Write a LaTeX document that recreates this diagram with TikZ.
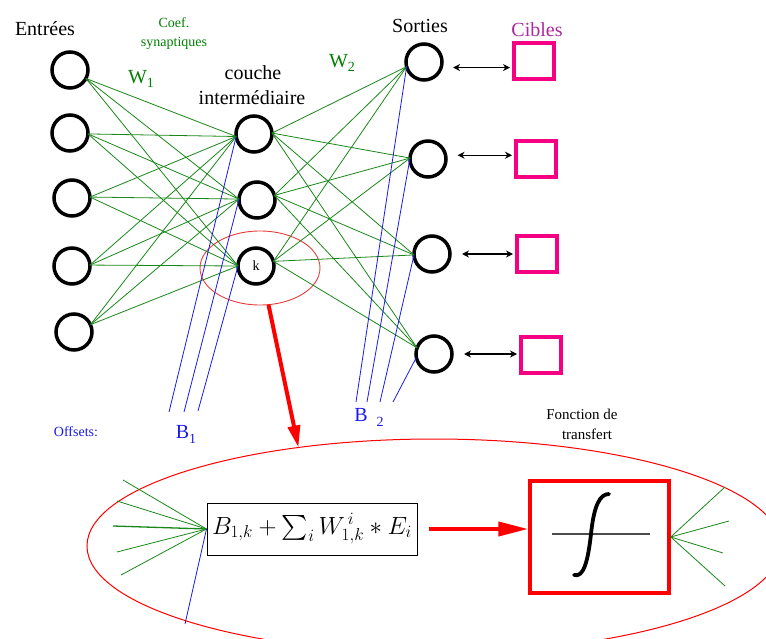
\documentclass[tikz,border=0pt]{standalone}
\usepackage{exscale}
\usepackage{fontspec}
\setmainfont{Liberation Serif}
\usetikzlibrary{arrows.meta,shapes.geometric}
\definecolor{gline}{RGB}{25,135,25}
\definecolor{gtext}{RGB}{0,128,0}
\definecolor{bline}{RGB}{25,25,235}
\definecolor{pinkc}{RGB}{245,0,130}
\definecolor{cibc}{RGB}{170,40,160}
\definecolor{redc}{RGB}{255,0,0}
\definecolor{ellc}{RGB}{232,60,60}
\begin{document}
\begin{tikzpicture}[x=1pt,y=-1pt,
  neuron/.style={circle,draw,line width=3.5pt,minimum size=36pt,inner sep=0pt,outer sep=0pt},
  target/.style={rectangle,draw=pinkc,line width=3.5pt,minimum width=40pt,minimum height=36pt,inner sep=0pt,outer sep=0pt},
  syn/.style={gline,line width=0.8pt},
  bias/.style={bline,line width=0.8pt},
  dbl/.style={{Stealth[length=7pt,width=7pt]}-{Stealth[length=7pt,width=7pt]},line width=1.2pt,shorten <=12pt,shorten >=4pt},
  big/.style={font=\fontsize{20}{22}\selectfont,inner sep=0pt},
  small/.style={font=\fontsize{14}{16}\selectfont,inner sep=0pt}]
\useasboundingbox (0,0) rectangle (766,639);
\clip (0,0) rectangle (766,639);

% ellipses
\node[ellipse,draw=redc,line width=1pt,minimum width=694pt,minimum height=214pt,inner sep=0pt,outer sep=0pt] (bigell) at (434,546) {};
\node[ellipse,draw=ellc,line width=0.9pt,minimum width=120pt,minimum height=74pt,inner sep=0pt,outer sep=0pt] (kell) at (260,268) {};

% neurons
\node[neuron] (i1) at (70,70) {};
\node[neuron] (i2) at (70,133) {};
\node[neuron] (i3) at (72,198) {};
\node[neuron] (i4) at (72,266) {};
\node[neuron] (i5) at (74,332) {};
\node[neuron] (h1) at (254,134) {};
\node[neuron] (h2) at (257,200) {};
\node[neuron] (h3) at (256,266) {\fontsize{14}{14}\selectfont k};
\node[neuron] (o1) at (424,62) {};
\node[neuron] (o2) at (428,159) {};
\node[neuron] (o3) at (432,254) {};
\node[neuron] (o4) at (434,354) {};

% targets
\node[target] (t1) at (534,61) {};
\node[target] (t2) at (536,159) {};
\node[target] (t3) at (537,254) {};
\node[target] (t4) at (541,355) {};

% synapses
\foreach \s in {i1.-28,i2.-3,i3.3,i4.3,i5.24}
  \foreach \t in {h1.188,h2.177,h3.180}
    \draw[syn] (\s) -- (\t);
\foreach \s in {h1.3,h2.15,h3.15}
  \foreach \t in {o1.195,o2.177,o3.183,o4.160}
    \draw[syn] (\s) -- (\t);

% biases
\coordinate (b1a) at (169,412);
\coordinate (b1b) at (184,412);
\coordinate (b1c) at (198,411);
\coordinate (b2a) at (356,402);
\coordinate (b2b) at (367,402);
\coordinate (b2c) at (380,402);
\coordinate (b2d) at (393,402);
\draw[bias] (b1a) -- (h1.188);
\draw[bias] (b1b) -- (h2.177);
\draw[bias] (b1c) -- (h3.180);
\draw[bias] (b2a) -- (o1.195);
\draw[bias] (b2b) -- (o2.177);
\draw[bias] (b2c) -- (o3.183);
\draw[bias] (b2d) -- (o4.191);

% output/target arrows
\draw[dbl] (o1.-18) -- (o1.-18 -| t1.west);
\draw[dbl] (o2.12) -- (o2.12 -| t2.west);
\draw[dbl] (o3.east) -- (o3.east -| t3.west);
\draw[dbl] (o4.east) -- (o4.east -| t4.west);

% labels
\node[big] (lent) at (45,29) {Entrées};
\node[small,text=gtext] (lcoef) at (174,23) {Coef.};
\node[small,text=gtext] (lsyn) at (174,43) {synaptiques};
\node[big,text=gtext] (lw1) at (141,79) {W\raisebox{-4pt}{\fontsize{14}{14}\selectfont 1}};
\node[big] (lcou) at (253,73) {couche};
\node[big] (lint) at (252,98) {intermédiaire};
\node[big,text=gtext] (lw2) at (342,63) {W\raisebox{-4pt}{\fontsize{14}{14}\selectfont 2}};
\node[big] (lsor) at (420,26) {Sorties};
\node[big,text=cibc] (lcib) at (537,30) {Cibles};
\node[small,text=bline] (loff) at (76,432) {Offsets:};
\node[big,text=bline] (lb1) at (186,434) {B\raisebox{-5pt}{\fontsize{14}{14}\selectfont 1}};
\node[big,text=bline] (lb2) at (361,415) {B};
\node[small,text=bline] (lb2s) at (380,422) {2};
\node[font=\fontsize{15}{17}\selectfont,inner sep=0pt] (lfon) at (582,414) {Fonction de};
\node[font=\fontsize{15}{17}\selectfont,inner sep=0pt] (ltra) at (587,434) {transfert};

% red arrow from neuron k
\draw[redc,line width=4pt,-{Triangle[length=22pt,width=12pt]}] (kell.-77) -- (bigell.144);

% formula box
\node[draw,line width=1pt,minimum width=210pt,minimum height=52pt,inner sep=0pt,font=\fontsize{25}{27}\selectfont] (form) at (312,529)
  {$B_{1,k}+\textstyle\sum_i W^{\,i}_{1,k}*E_i$};
\node[draw=redc,line width=3.5pt,minimum width=139pt,minimum height=112pt,inner sep=0pt] (tf) at (599.5,537) {};
\draw[redc,line width=4pt,shorten <=11pt,-{Triangle[length=30pt,width=14pt]}] (form.east) -- (form.east -| tf.west);

% inside transfer box
\draw[black!70,line width=1.3pt] (552,534) -- (650,534);
\draw[line width=3.8pt,line cap=round] (574,575) .. controls (584,578) and (588,560) .. (591,534) .. controls (594,505) and (600,494) .. (609,494);

% green inputs to formula
\coordinate (fl1) at (123,480);
\coordinate (fl2) at (117,501);
\coordinate (fl3) at (113,526);
\coordinate (fl4) at (117,552);
\coordinate (fl5) at (121,575);
\foreach \c in {fl1,fl2,fl4,fl5} \draw[syn] (form.west) -- (\c);
\draw[gline,line width=1.3pt] (form.west) -- (fl3);
\coordinate (fb) at (185,624);
\draw[bias] (form.west) -- (fb);

% green outputs from transfer
\coordinate (fr1) at (725,487);
\coordinate (fr2) at (729,521);
\coordinate (fr3) at (723,553);
\coordinate (fr4) at (725,586);
\foreach \c in {fr1,fr2,fr3,fr4} \draw[syn] (tf.east) -- (\c);
\end{tikzpicture}
\end{document}
